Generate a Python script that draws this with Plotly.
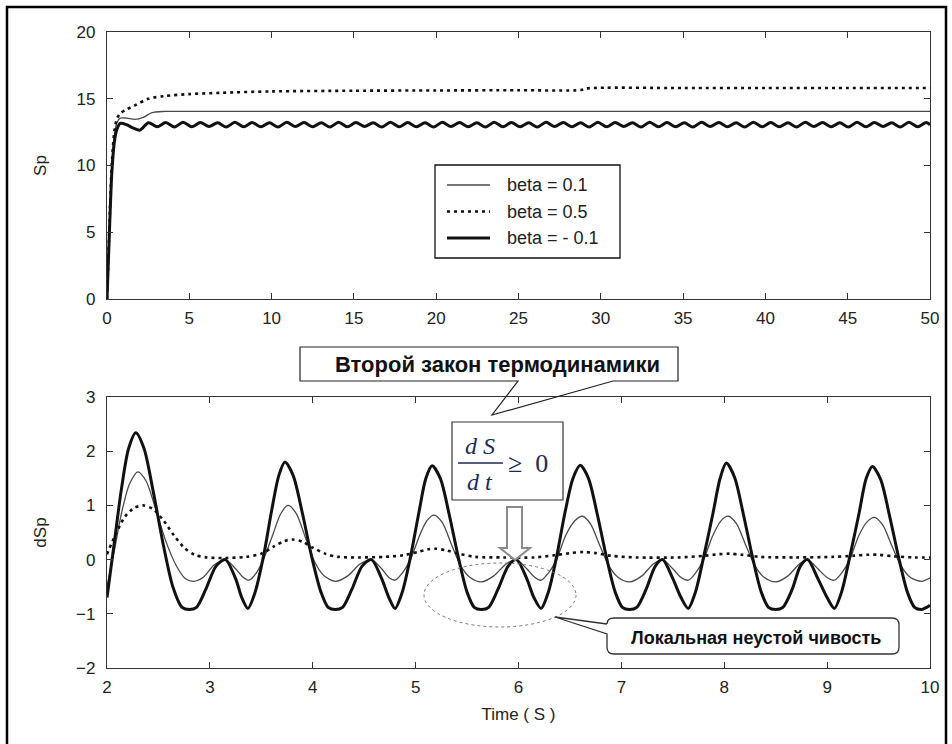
import plotly.graph_objects as go

W, H = 952, 744

series_names = ["beta = 0.1", "beta = 0.5", "beta = - 0.1"]

# ---------------- top panel: Sp versus time (0..50) ----------------
sp_t_b01 = [0, 0.1, 0.2, 0.3, 0.45, 0.6, 0.8, 1.2, 1.7, 2.2, 2.7, 3.5, 5, 10, 15, 20, 25, 30, 35, 40, 45, 50]
sp_b01 = [0, 3.6, 7.2, 10.0, 12.2, 13.2, 13.55, 13.55, 13.45, 13.6, 13.95, 14.05, 14.05, 14.05, 14.05,
          14.05, 14.05, 14.05, 14.05, 14.05, 14.05, 14.05]

sp_t_b05 = [0, 0.1, 0.2, 0.3, 0.45, 0.6, 0.8, 1.2, 1.7, 2.5, 3.5, 5, 7, 10, 15, 20, 25, 28.8, 29.2, 35, 40, 45, 50]
sp_b05 = [0, 3.7, 7.4, 10.3, 12.6, 13.5, 13.9, 14.2, 14.5, 15.0, 15.2, 15.35, 15.45, 15.55, 15.6, 15.62,
          15.64, 15.65, 15.78, 15.8, 15.8, 15.8, 15.8]

sp_t_bm01 = [0, 0.1, 0.2, 0.3, 0.45, 0.6, 0.8, 1.2, 1.6, 2.0,
             2.52, 3.05, 3.57, 4.10, 4.62, 5.15, 5.67, 6.20, 6.72, 7.25,
             7.77, 8.30, 8.82, 9.35, 9.87, 10.40, 10.92, 11.45, 11.97, 12.50,
             13.02, 13.55, 14.07, 14.60, 15.12, 15.65, 16.17, 16.70, 17.22, 17.75,
             18.27, 18.80, 19.32, 19.85, 20.37, 20.90, 21.42, 21.95, 22.47, 23.00,
             23.52, 24.05, 24.57, 25.10, 25.62, 26.15, 26.67, 27.20, 27.72, 28.25,
             28.77, 29.30, 29.82, 30.35, 30.87, 31.40, 31.92, 32.45, 32.97, 33.50,
             34.02, 34.55, 35.07, 35.60, 36.12, 36.65, 37.17, 37.70, 38.22, 38.75,
             39.27, 39.80, 40.32, 40.85, 41.37, 41.90, 42.42, 42.95, 43.47, 44.00,
             44.52, 45.05, 45.57, 46.10, 46.62, 47.15, 47.67, 48.20, 48.72, 49.25,
             49.77, 50.0]
sp_bm01 = [0, 3.4, 6.8, 9.6, 11.8, 12.7, 13.15, 13.05, 12.8, 12.65,
           13.20, 12.90, 13.22, 12.88, 13.24, 12.90, 13.22, 12.92, 13.20, 12.88,
           13.24, 12.90, 13.22, 12.90, 13.20, 12.88, 13.24, 12.92, 13.22, 12.90,
           13.20, 12.88, 13.24, 12.90, 13.22, 12.92, 13.20, 12.88, 13.24, 12.90,
           13.22, 12.90, 13.20, 12.88, 13.24, 12.92, 13.22, 12.90, 13.20, 12.88,
           13.24, 12.90, 13.22, 12.90, 13.20, 12.88, 13.24, 12.92, 13.22, 12.90,
           13.20, 12.88, 13.24, 12.90, 13.22, 12.92, 13.20, 12.88, 13.24, 12.90,
           13.22, 12.90, 13.20, 12.88, 13.24, 12.92, 13.22, 12.90, 13.20, 12.88,
           13.24, 12.90, 13.22, 12.90, 13.20, 12.88, 13.24, 12.92, 13.22, 12.90,
           13.20, 12.88, 13.24, 12.90, 13.22, 12.92, 13.20, 12.88, 13.24, 12.90,
           13.22, 13.05]

# ---------------- bottom panel: dSp versus time (2..10) ----------------
dsp_t_b01 = [2.00, 2.07, 2.14, 2.22, 2.30, 2.38, 2.47, 2.57, 2.67, 2.76, 2.84, 2.94, 3.04, 3.15, 3.25, 3.32,
             3.38, 3.45, 3.52, 3.61, 3.69, 3.76, 3.84, 3.93, 4.02, 4.11, 4.22, 4.34, 4.46, 4.57, 4.67, 4.74,
             4.80, 4.87, 4.95, 5.04, 5.11, 5.18, 5.26, 5.35, 5.44, 5.53, 5.64, 5.76, 5.88, 5.98, 6.08, 6.16,
             6.22, 6.29, 6.37, 6.46, 6.55, 6.62, 6.70, 6.79, 6.88, 6.97, 7.08, 7.20, 7.31, 7.40, 7.50, 7.58,
             7.65, 7.72, 7.80, 7.89, 7.97, 8.04, 8.12, 8.21, 8.30, 8.39, 8.50, 8.62, 8.73, 8.81, 8.91, 9.00,
             9.07, 9.14, 9.22, 9.31, 9.39, 9.46, 9.54, 9.63, 9.72, 9.81, 9.92, 10.00]
dsp_b01 = [-0.50, 0.15, 0.85, 1.40, 1.62, 1.45, 0.95, 0.35, -0.10, -0.35, -0.40, -0.32, -0.10, 0.00, -0.17, -0.32,
           -0.38, -0.25, 0.00, 0.45, 0.85, 1.00, 0.85, 0.40, -0.05, -0.30, -0.40, -0.30, -0.08, 0.00, -0.17, -0.33,
           -0.38, -0.25, 0.00, 0.45, 0.72, 0.82, 0.68, 0.27, -0.12, -0.33, -0.41, -0.30, -0.08, 0.00, -0.17, -0.33,
           -0.38, -0.25, 0.00, 0.45, 0.72, 0.80, 0.66, 0.26, -0.12, -0.33, -0.41, -0.30, -0.08, 0.00, -0.17, -0.33,
           -0.38, -0.25, 0.00, 0.45, 0.72, 0.80, 0.66, 0.26, -0.12, -0.33, -0.41, -0.30, -0.08, 0.00, -0.17, -0.33,
           -0.38, -0.25, 0.00, 0.45, 0.70, 0.78, 0.64, 0.25, -0.12, -0.33, -0.40, -0.34]

dsp_t_b05 = [2.00, 2.08, 2.17, 2.26, 2.35, 2.45, 2.55, 2.65, 2.75, 2.85, 2.97, 3.15, 3.35, 3.50, 3.62, 3.72,
             3.80, 3.90, 4.00, 4.12, 4.25, 4.45, 4.70, 4.88, 5.02, 5.12, 5.20, 5.30, 5.42, 5.58, 5.85, 6.15,
             6.35, 6.50, 6.63, 6.75, 6.90, 7.15, 7.55, 7.80, 7.95, 8.05, 8.17, 8.35, 8.70, 9.05, 9.25, 9.40,
             9.50, 9.65, 9.85, 10.00]
dsp_b05 = [0.10, 0.45, 0.78, 0.95, 1.00, 0.93, 0.72, 0.45, 0.22, 0.09, 0.04, 0.03, 0.05, 0.11, 0.24, 0.34,
           0.37, 0.33, 0.22, 0.11, 0.05, 0.04, 0.05, 0.08, 0.14, 0.19, 0.20, 0.17, 0.11, 0.05, 0.04, 0.04,
           0.08, 0.12, 0.14, 0.12, 0.07, 0.04, 0.04, 0.07, 0.10, 0.11, 0.09, 0.05, 0.04, 0.05, 0.07, 0.09,
           0.09, 0.06, 0.04, 0.04]

dsp_t_bm01 = [2.00, 2.07, 2.14, 2.21, 2.28, 2.36, 2.45, 2.55, 2.64, 2.73, 2.80, 2.87, 2.96, 3.06, 3.15, 3.25,
              3.31, 3.37, 3.44, 3.52, 3.60, 3.67, 3.73, 3.81, 3.90, 3.99, 4.08, 4.15, 4.22, 4.29, 4.38, 4.48,
              4.57, 4.67, 4.74, 4.80, 4.87, 4.95, 5.03, 5.10, 5.16, 5.24, 5.33, 5.42, 5.50, 5.57, 5.64, 5.71,
              5.80, 5.90, 5.98, 6.08, 6.15, 6.22, 6.29, 6.37, 6.45, 6.53, 6.60, 6.68, 6.77, 6.86, 6.94, 7.01,
              7.08, 7.15, 7.24, 7.33, 7.40, 7.50, 7.58, 7.65, 7.72, 7.80, 7.89, 7.96, 8.02, 8.10, 8.19, 8.28,
              8.36, 8.43, 8.50, 8.57, 8.66, 8.74, 8.81, 8.91, 9.00, 9.07, 9.14, 9.22, 9.31, 9.38, 9.44, 9.52,
              9.61, 9.70, 9.78, 9.85, 9.92, 9.97, 10.00]
dsp_bm01 = [-0.70, 0.30, 1.30, 2.05, 2.34, 2.05, 1.25, 0.25, -0.50, -0.88, -0.92, -0.88, -0.55, -0.12, 0.00, -0.35,
            -0.70, -0.90, -0.60, 0.05, 0.90, 1.55, 1.80, 1.55, 0.85, 0.05, -0.60, -0.88, -0.92, -0.88, -0.55, -0.12,
            0.00, -0.35, -0.70, -0.90, -0.60, 0.05, 0.85, 1.50, 1.73, 1.50, 0.80, 0.00, -0.60, -0.88, -0.92, -0.88,
            -0.55, -0.12, 0.00, -0.35, -0.70, -0.90, -0.60, 0.05, 0.85, 1.50, 1.74, 1.50, 0.80, 0.00, -0.60, -0.88,
            -0.92, -0.88, -0.55, -0.12, 0.00, -0.35, -0.70, -0.90, -0.60, 0.05, 0.85, 1.50, 1.78, 1.52, 0.80, 0.00,
            -0.60, -0.88, -0.92, -0.88, -0.55, -0.12, 0.00, -0.35, -0.70, -0.90, -0.60, 0.05, 0.85, 1.50, 1.72, 1.48,
            0.78, 0.00, -0.60, -0.88, -0.92, -0.88, -0.84]

top_xticks = [0, 5, 10, 15, 20, 25, 30, 35, 40, 45, 50]
top_yticks = [0, 5, 10, 15, 20]
bot_xticks = [2, 3, 4, 5, 6, 7, 8, 9, 10]
bot_yticks = [-2, -1, 0, 1, 2, 3]

# ---------------- styles ----------------
FONT = "Liberation Sans"
styles = [
    dict(color="#4a4a4a", width=1.3, dash="solid"),
    dict(color="#111111", width=2.6, dash="3px,4px"),
    dict(color="#111111", width=3.0, dash="solid"),
]


def fx(x):
    return x / W


def fy(y):
    return 1 - y / H


fig = go.Figure()

top_series = [(sp_t_b01, sp_b01), (sp_t_b05, sp_b05), (sp_t_bm01, sp_bm01)]
bot_series = [(dsp_t_b01, dsp_b01), (dsp_t_b05, dsp_b05), (dsp_t_bm01, dsp_bm01)]

for (tx, ty), st, nm in zip(top_series, styles, series_names):
    fig.add_trace(go.Scatter(x=tx, y=ty, mode="lines", name=nm, showlegend=False,
                             line=dict(color=st["color"], width=st["width"], dash=st["dash"],
                                       shape="spline", smoothing=0.8),
                             xaxis="x", yaxis="y"))
for (tx, ty), st, nm in zip(bot_series, styles, series_names):
    fig.add_trace(go.Scatter(x=tx, y=ty, mode="lines", name=nm, showlegend=False,
                             line=dict(color=st["color"], width=st["width"], dash=st["dash"],
                                       shape="spline", smoothing=0.8),
                             xaxis="x2", yaxis="y2"))

axis_common = dict(showline=True, linecolor="#333333", linewidth=1.4, mirror="ticks",
                   ticks="inside", ticklen=6, tickwidth=1.2, tickcolor="#333333",
                   showgrid=False, zeroline=False, automargin=False,
                   tickfont=dict(family=FONT, size=17, color="#222222"))

title_font = dict(family=FONT, size=17, color="#222222")
xdom = [fx(107), fx(930)]
fig.update_layout(
    width=W, height=H,
    margin=dict(l=0, r=0, t=0, b=0),
    paper_bgcolor="white", plot_bgcolor="white",
    font=dict(family=FONT, size=16, color="#222222"),
    showlegend=False,
    xaxis=dict(domain=xdom, range=[0, 50], tickvals=top_xticks, anchor="y",
               ticklabelstandoff=3, **axis_common),
    yaxis=dict(domain=[fy(299), fy(32)], range=[0, 20], tickvals=top_yticks, anchor="x",
               ticklabelstandoff=7,
               title=dict(text="Sp", font=title_font, standoff=25),
               **axis_common),
    xaxis2=dict(domain=xdom, range=[2, 10], tickvals=bot_xticks, anchor="y2",
                ticklabelstandoff=3,
                title=dict(text="Time ( S )", font=title_font, standoff=12),
                **axis_common),
    yaxis2=dict(domain=[fy(668), fy(397)], range=[-2, 3], tickvals=bot_yticks, anchor="x2",
                ticklabelstandoff=7,
                title=dict(text="dSp", font=title_font, standoff=25),
                **axis_common),
)

shapes = []
annotations = []

# outer frame
shapes.append(dict(type="rect", xref="paper", yref="paper", x0=fx(7), x1=fx(946), y0=fy(7), y1=fy(760),
                   line=dict(color="black", width=2.5), fillcolor="rgba(0,0,0,0)", layer="above"))

# legend of the top panel
shapes.append(dict(type="rect", xref="paper", yref="paper", x0=fx(435), x1=fx(620), y0=fy(165), y1=fy(258),
                   line=dict(color="#111111", width=1.3), fillcolor="white"))
for i, (st, nm) in enumerate(zip(styles, series_names)):
    yy = 185 + i * 26.5
    shapes.append(dict(type="line", xref="paper", yref="paper", x0=fx(447), x1=fx(490), y0=fy(yy), y1=fy(yy),
                       line=dict(color=st["color"], width=st["width"], dash=st["dash"])))
    annotations.append(dict(text=nm, xref="paper", yref="paper", x=fx(505), y=fy(yy), xanchor="left",
                            yanchor="middle", showarrow=False, font=dict(family=FONT, size=18, color="#222222")))


def path(pts, close=True):
    s = "M " + " L ".join(f"{fx(x):.5f},{fy(y):.5f}" for x, y in pts)
    return s + (" Z" if close else "")


# callout 1: second law of thermodynamics
shapes.append(dict(type="path", xref="paper", yref="paper",
                   path=path([(300, 347), (678, 347), (678, 381), (613, 381), (492, 415), (518, 381), (300, 381)]),
                   line=dict(color="#222222", width=1.2), fillcolor="rgba(0,0,0,0)"))
annotations.append(dict(text="<b>Второй закон термодинамики</b>", xref="paper", yref="paper",
                        x=fx(497), y=fy(364), xanchor="center", yanchor="middle", showarrow=False,
                        font=dict(family=FONT, size=22, color="#111111")))

# formula box dS/dt >= 0
shapes.append(dict(type="rect", xref="paper", yref="paper", x0=fx(452), x1=fx(563), y0=fy(422), y1=fy(500),
                   line=dict(color="#333333", width=1.2), fillcolor="white"))
shapes.append(dict(type="line", xref="paper", yref="paper", x0=fx(458), x1=fx(503), y0=fy(463), y1=fy(463),
                   line=dict(color="#1b2a55", width=1.3)))
serif = "Liberation Serif"
annotations.append(dict(text="<i>d S</i>", xref="paper", yref="paper", x=fx(480), y=fy(446),
                        xanchor="center", yanchor="middle", showarrow=False,
                        font=dict(family=serif, size=24, color="#1b2a55")))
annotations.append(dict(text="<i>d t</i>", xref="paper", yref="paper", x=fx(480), y=fy(482),
                        xanchor="center", yanchor="middle", showarrow=False,
                        font=dict(family=serif, size=24, color="#1b2a55")))
annotations.append(dict(text="≥  0", xref="paper", yref="paper", x=fx(506), y=fy(463),
                        xanchor="left", yanchor="middle", showarrow=False,
                        font=dict(family=serif, size=26, color="#1b2a55")))

# hollow down arrow
shapes.append(dict(type="path", xref="paper", yref="paper",
                   path=path([(507, 507), (522, 507), (522, 548), (530, 548), (515, 560), (500, 548), (507, 548)]),
                   line=dict(color="#8a8a8a", width=2), fillcolor="white"))

# dashed ellipse
shapes.append(dict(type="circle", xref="paper", yref="paper", x0=fx(424), x1=fx(576), y0=fy(563), y1=fy(627),
                   line=dict(color="#777777", width=1, dash="3px,3px"), fillcolor="rgba(0,0,0,0)"))

# callout 2: local instability (rounded box with tail)
p2 = (f"M {fx(607):.5f},{fy(624):.5f} L {fx(555):.5f},{fy(617):.5f} L {fx(607):.5f},{fy(634):.5f} "
      f"L {fx(607):.5f},{fy(647):.5f} Q {fx(607):.5f},{fy(654):.5f} {fx(614):.5f},{fy(654):.5f} "
      f"L {fx(892):.5f},{fy(654):.5f} Q {fx(899):.5f},{fy(654):.5f} {fx(899):.5f},{fy(647):.5f} "
      f"L {fx(899):.5f},{fy(625):.5f} Q {fx(899):.5f},{fy(618):.5f} {fx(892):.5f},{fy(618):.5f} "
      f"L {fx(614):.5f},{fy(618):.5f} Q {fx(607):.5f},{fy(618):.5f} {fx(607):.5f},{fy(624):.5f}")
shapes.append(dict(type="path", xref="paper", yref="paper", path=p2,
                   line=dict(color="#333333", width=1.3), fillcolor="rgba(0,0,0,0)"))
annotations.append(dict(text="<b>Локальная неустой чивость</b>", xref="paper", yref="paper",
                        x=fx(756), y=fy(638), xanchor="center", yanchor="middle", showarrow=False,
                        font=dict(family=FONT, size=18, color="#111111")))

fig.update_layout(shapes=shapes, annotations=annotations)

fig.write_html("out.html")
